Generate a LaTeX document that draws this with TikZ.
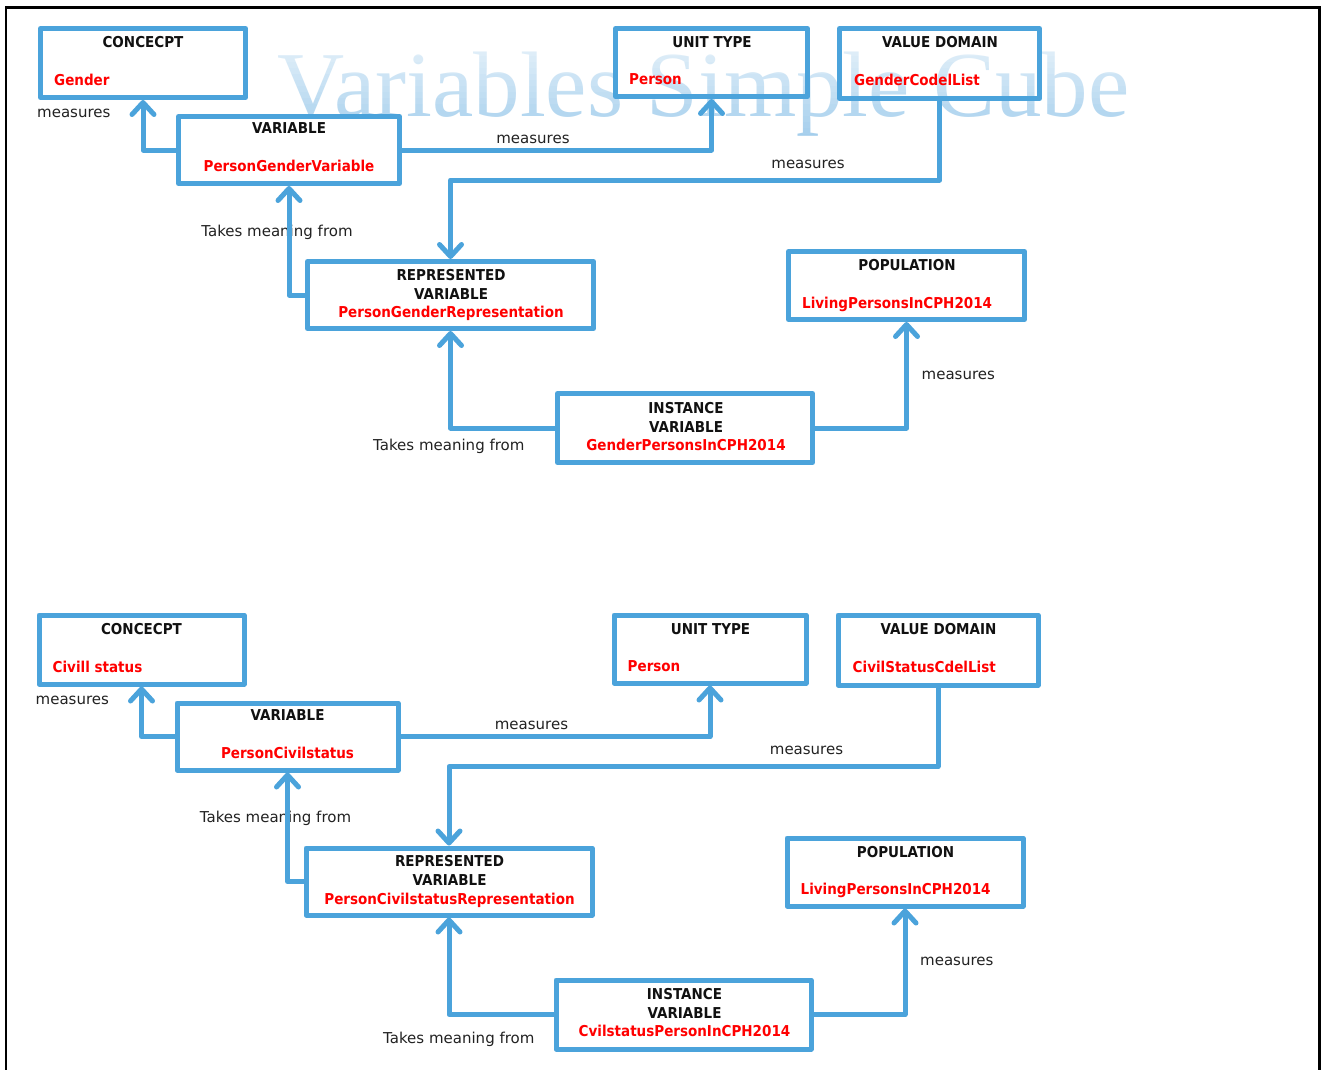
\documentclass[tikz,border=0pt]{standalone}
\usepackage{fontspec}
\setmainfont{DejaVu Sans}
\newfontfamily\boxfont[FakeStretch=0.9]{DejaVu Sans}
\newfontfamily\wmfont{Liberation Serif}
\usetikzlibrary{arrows.meta,calc}

\definecolor{linkblue}{HTML}{4BA3DB}
\definecolor{valred}{HTML}{FF0000}
\definecolor{titleblack}{HTML}{111111}
\definecolor{labelgray}{HTML}{222222}
\definecolor{wmblue}{HTML}{A0CCEC}

\tikzset{
  box/.style={draw=linkblue, line width=5pt, line join=round, inner sep=0pt},
  conn/.style={draw=linkblue, line width=5pt, line join=round,
    -{Straight Barb[length=12pt, width=22pt, round]}},
  ttl/.style={anchor=base, inner sep=0pt, text=titleblack,
    font=\boxfont\bfseries\fontsize{15}{18}\selectfont},
  val/.style={ttl, text=valred},
  valw/.style={val, anchor=base west},
  lbl/.style={anchor=base, inner sep=0pt, text=labelgray,
    font=\fontsize{15}{18}\selectfont},
  lblw/.style={lbl, anchor=base west},
  wm/.style={anchor=base west, inner sep=0pt, text=wmblue,
    font=\wmfont\fontsize{93}{100}\selectfont},
}

% One variable cube: boxes, their texts, connectors and labels.
% #1 name prefix, #2 shift, #3 concept, #4 variable, #5 value domain,
% #6 represented variable, #7 instance variable, #8 offset of the lower label
\newcommand\cubepanel[8]{%
  \begin{scope}[shift={#2}]
    % boxes
    \node[box, minimum width=205, minimum height=69] (#1-concept) at (143,63) {};
    \node[box, minimum width=221, minimum height=67] (#1-var) at (289,150) {};
    \node[box, minimum width=192, minimum height=68] (#1-unit) at (711.5,62.5) {};
    \node[box, minimum width=200, minimum height=70] (#1-dom) at (939.5,63.5) {};
    \node[box, minimum width=286, minimum height=67] (#1-rep) at (450.5,295) {};
    \node[box, minimum width=236, minimum height=68] (#1-pop) at (906.5,285.5) {};
    \node[box, minimum width=255, minimum height=69] (#1-inst) at (685,428) {};
    % box texts
    \node[ttl] (#1-concept-t) at (143,48) {CONCECPT};
    \node[valw] (#1-concept-v) at (54,85.5) {#3};
    \node[ttl] (#1-var-t) at (289,134) {VARIABLE};
    \node[val] (#1-var-v) at (289,171.5) {#4};
    \node[ttl] (#1-unit-t) at (712,48) {UNIT TYPE};
    \node[valw] (#1-unit-v) at (629,85) {Person};
    \node[ttl] (#1-dom-t) at (940,48) {VALUE DOMAIN};
    \node[valw] (#1-dom-v) at (854,85.5) {#5};
    \node[ttl] (#1-rep-t1) at (451,280) {REPRESENTED};
    \node[ttl] (#1-rep-t2) at (451,299) {VARIABLE};
    \node[val] (#1-rep-v) at (451,317.5) {#6};
    \node[ttl] (#1-pop-t) at (907,270.5) {POPULATION};
    \node[valw] (#1-pop-v) at (802,308) {LivingPersonsInCPH2014};
    \node[ttl] (#1-inst-t1) at (686,413) {INSTANCE};
    \node[ttl] (#1-inst-t2) at (686,432) {VARIABLE};
    \node[val] (#1-inst-v) at (686,450) {#7};
    % connector labels
    \node[lblw] (#1-m1) at (37,118) {measures};
    \node[lbl] (#1-m2) at (533,143) {measures};
    \node[lbl] (#1-m3) at (808,168) {measures};
    \node[lbl] (#1-t1) at (277,236) {Takes meaning from};
    \node[lblw] (#1-t2) at ($(373,450)+#8$) {Takes meaning from};
    \node[lblw] (#1-m4) at (921.5,379) {measures};
    % connectors
    \draw[conn] (#1-var.west) -| (#1-concept.south);
    \draw[conn] (#1-var.east) -| (#1-unit.south);
    \draw[conn] (#1-dom.south) |- (#1-rep.north |- 0,180) -- (#1-rep.north);
    \draw[conn] (#1-rep.west) -| (#1-var.south);
    \draw[conn] (#1-inst.west) -| (#1-rep.south);
    \draw[conn] (#1-inst.east) -| (#1-pop.south);
  \end{scope}%
}

\begin{document}
\begin{tikzpicture}[x=1pt, y=-1pt]
  \useasboundingbox (0,0) rectangle (1322,1070);
  \fill[white] (0,0) rectangle (1322,1070);

  % title watermark
  \node[wm] (wm) at (277,117) {Variables Simple Cube};
  % white veil, strongest at the top, so the title pales upwards
  \foreach \i in {0,...,15} {
    \pgfmathsetmacro\veil{0.66*(1-\i/15)}
    \fill[white, fill opacity=\veil] (250,50+6*\i) rectangle (1160,56+6*\i);
  }

  % page frame
  \draw[line width=2.5pt] (6,1075) -- (6,7.5) -- (1319.5,7.5) -- (1319.5,1075);

  \cubepanel{g}{(0,0)}{Gender}{PersonGenderVariable}{GenderCodelList}
    {PersonGenderRepresentation}{GenderPersonsInCPH2014}{(0,0)}
  \cubepanel{c}{(-1.5,586.5)}{Civill status}{PersonCivilstatus}{CivilStatusCdelList}
    {PersonCivilstatusRepresentation}{CvilstatusPersonInCPH2014}{(11.5,6.5)}
\end{tikzpicture}
\end{document}
